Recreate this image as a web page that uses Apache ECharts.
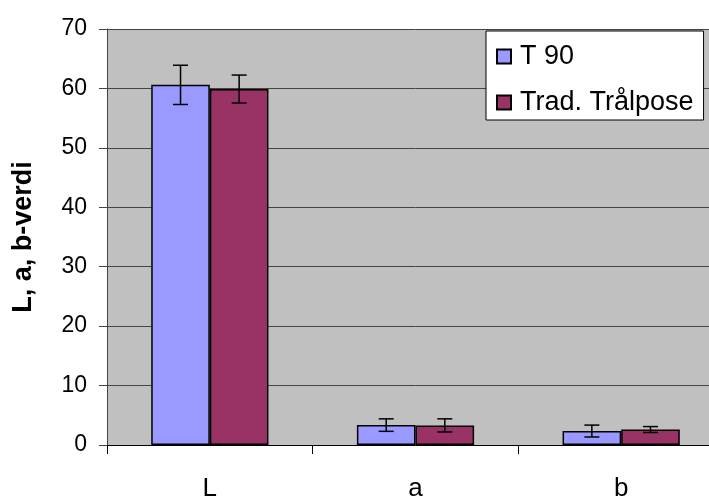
<head>
  <meta charset="utf-8" />
</head>

<body style="margin: 0; overflow: hidden">
  <!-- the reference cuts the chart at the right edge, so the chart is wider than the window -->
  <div id="main" style="width: 724px; height: 499px"></div>
  <script src="https://cdn.jsdelivr.net/npm/echarts@6.0.0/dist/echarts.min.js"></script>
  <script>
    // categories and values
    var categories = ["L", "a", "b"];
    var seriesNames = ["T 90", "Trad. Trålpose"];
    var t90 = [60.6, 3.35, 2.35];
    var t90Err = [3.3, 1.05, 1.0];
    var trad = [59.9, 3.3, 2.6];
    var tradErr = [2.35, 1.1, 0.5];
    var yTicks = [0, 10, 20, 30, 40, 50, 60, 70];

    var gapRatio = 0.43;

    // error bars drawn over the bars, side = -1 left bar, +1 right bar
    function errorBars(values, errs, side) {
      return {
        type: "custom",
        z: 10,
        silent: true,
        data: values.map((v, i) => [i, v, errs[i]]),
        renderItem: function (params, api) {
          var band = api.size([1, 0])[0];
          var w = (band * (1 - gapRatio)) / 2;
          var c = api.coord([api.value(0), api.value(1)]);
          var x = c[0] + (side * w) / 2;
          var hi = api.coord([api.value(0), api.value(1) + api.value(2)])[1];
          var lo = api.coord([api.value(0), api.value(1) - api.value(2)])[1];
          var st = { stroke: "#000", lineWidth: 1.5 };
          return {
            type: "group",
            children: [
              { type: "line", shape: { x1: x, y1: hi, x2: x, y2: lo }, style: st },
              { type: "line", shape: { x1: x - 7.5, y1: hi, x2: x + 7.5, y2: hi }, style: st },
              { type: "line", shape: { x1: x - 7.5, y1: lo, x2: x + 7.5, y2: lo }, style: st },
            ],
          };
        },
      };
    }

    var myChart = echarts.init(document.getElementById("main"));
    const option = {
      animation: false,
      textStyle: { fontFamily: "Liberation Sans, Arial, sans-serif" },
      grid: {
        left: 107,
        top: 29,
        bottom: 54,
        right: 0,
        outerBoundsMode: "none",
        containLabel: false,
        show: true,
        backgroundColor: "#c0c0c0",
        borderWidth: 0,
      },
      legend: {
        data: seriesNames.map((n) => ({ name: n, icon: "rect" })),
        orient: "vertical",
        left: 486,
        top: 31,
        padding: [12, 10, 4, 10],
        itemGap: 19,
        itemWidth: 14,
        itemHeight: 14,
        backgroundColor: "#fff",
        borderColor: "#000",
        borderWidth: 1,
        borderRadius: 0,
        textStyle: { fontSize: 27, color: "#000", fontFamily: "Liberation Sans", padding: [0, 0, 0, 4] },
      },
      xAxis: {
        type: "category",
        data: categories,
        axisLine: { lineStyle: { color: "#000", width: 1 } },
        axisTick: { show: true, length: 9, lineStyle: { color: "#000" } },
        axisLabel: { fontSize: 26, color: "#000", margin: 31 },
      },
      yAxis: {
        type: "value",
        min: yTicks[0],
        max: yTicks[yTicks.length - 1],
        interval: 10,
        name: "L, a, b-verdi",
        nameLocation: "middle",
        nameGap: 70,
        nameTextStyle: { fontSize: 27, fontWeight: "bold", color: "#000" },
        axisLine: { show: true, lineStyle: { color: "#444" } },
        axisTick: { show: true, length: 8, lineStyle: { color: "#444" } },
        axisLabel: { fontSize: 23, color: "#000", margin: 20 },
        splitLine: { lineStyle: { color: "#444", width: 1 } },
      },
      series: [
        {
          name: seriesNames[0],
          type: "bar",
          data: t90,
          barGap: "0%",
          barCategoryGap: gapRatio * 100 + "%",
          itemStyle: { color: "#9999ff", borderColor: "#000", borderWidth: 1.5 },
        },
        {
          name: seriesNames[1],
          type: "bar",
          data: trad,
          itemStyle: { color: "#993366", borderColor: "#000", borderWidth: 1.5 },
        },
        errorBars(t90, t90Err, -1),
        errorBars(trad, tradErr, 1),
      ],
    };
    myChart.setOption(option);
  </script>
</body>
